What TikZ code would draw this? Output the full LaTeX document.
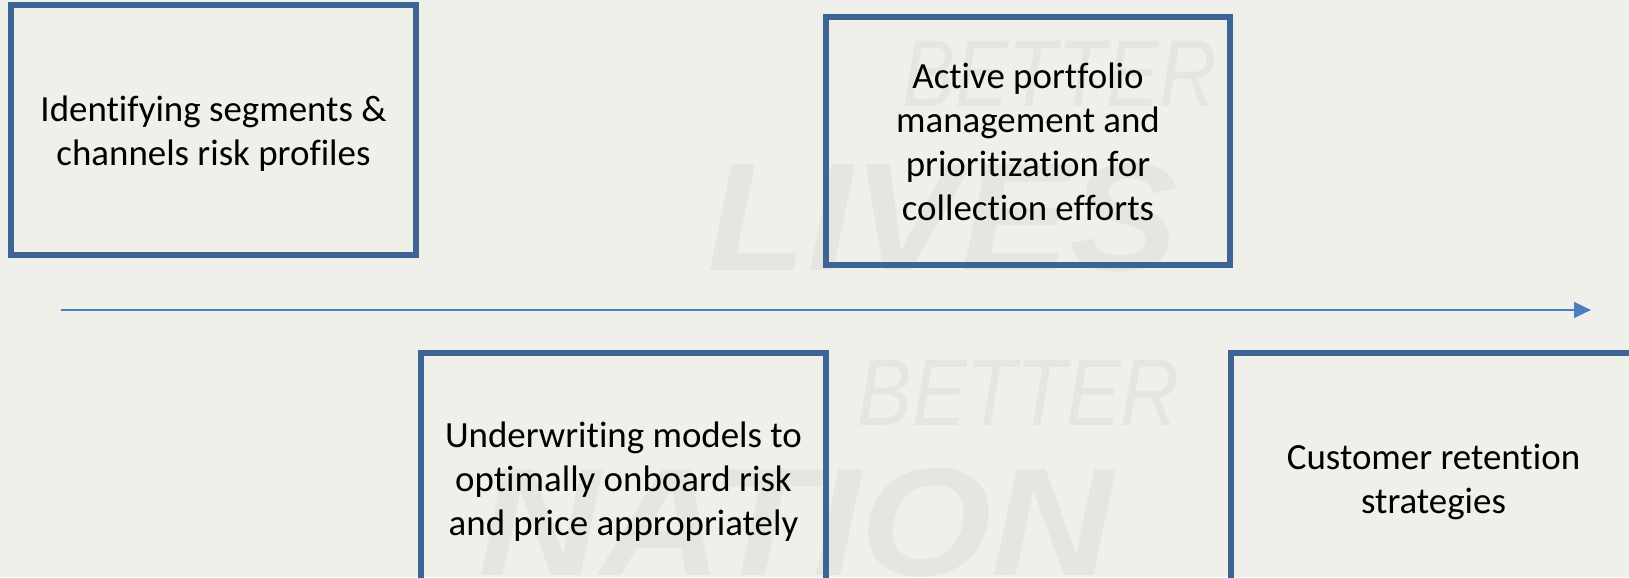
\documentclass[tikz,border=0pt]{standalone}
\usepackage{fontspec}
\setmainfont{Carlito}[Ligatures=NoCommon]
\newfontfamily\markfont{Liberation Sans}
\usetikzlibrary{arrows.meta}
\definecolor{paper}{RGB}{238,240,233}
\definecolor{markgray}{RGB}{228,230,223}
\definecolor{boxblue}{RGB}{62,100,150}
\definecolor{lineblue}{RGB}{74,126,193}
\newcommand{\topstrut}{\rule{0pt}{10.4pt}}
\newcommand{\botstrut}{\rule[-2.6pt]{0pt}{2.6pt}}
\tikzset{
  stagebox/.style  = {rectangle, draw=boxblue, line width=1.45pt, inner sep=0pt,
                      align=center, text=black,
                      minimum width=4.05cm, minimum height=2.50cm,
                      font=\fontsize{10.5}{12.5}\selectfont},
  timeline/.style  = {draw=lineblue, line width=0.8pt,
                      -{Triangle[length=4.8pt,width=4.4pt]}},
  markbig/.style   = {text=markgray, inner sep=0pt, anchor=base west,
                      font=\markfont\bfseries\itshape\fontsize{43.7}{44}\selectfont},
  markthin/.style  = {text=markgray, inner sep=0pt, anchor=base west,
                      font=\markfont\itshape\fontsize{27}{28}\selectfont},
}

\begin{document}
\begin{tikzpicture}
  \useasboundingbox (0,0) rectangle (16.29,5.77);
  \clip (0,0) rectangle (16.29,5.77);

  % ---- paper and watermark -----------------------------------------------
  \fill[paper] (0,0) rectangle (16.29,5.77);
  \node[markthin, xscale=0.84] (markA) at (9.02,4.70) {BETTER};
  \node[markbig,  xscale=1.06] (markB) at (7.07,3.07) {LIVES};
  \node[markthin, xscale=0.86] (markC) at (8.57,1.52) {BETTER};
  \node[markbig,  xscale=1.10] (markD) at (4.78,0.02) {NATION};

  % ---- time line ---------------------------------------------------------
  \coordinate (tstart) at (0.61,2.67);
  \coordinate (tend)   at (15.91,2.67);
  \draw[timeline] (tstart) -- (tend);

  % ---- stages above the line ---------------------------------------------
  \node[stagebox] (ident) at (2.135,4.47)
    {\topstrut Identifying segments \&\\channels risk profiles\botstrut};
  \node[stagebox, minimum width=4.04cm, minimum height=2.48cm] (active) at (10.28,4.36)
    {\topstrut Active portfolio\\management and\\prioritization for\\collection efforts\botstrut};

  % ---- stages below the line ---------------------------------------------
  \node[stagebox] (underw) at (6.235,0.99)
    {\topstrut Underwriting models to\\optimally onboard risk\\and price appropriately\botstrut};
  \node[stagebox] (retain) at (14.335,0.99)
    {\topstrut Customer retention\\strategies\botstrut};
\end{tikzpicture}
\end{document}
